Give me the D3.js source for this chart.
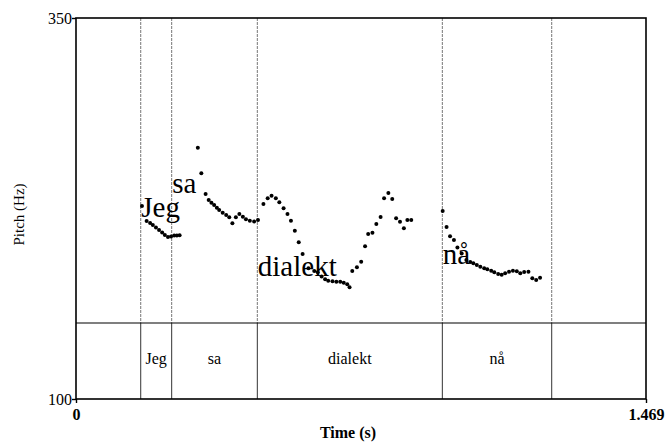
<!DOCTYPE html>
<html lang="en">
<head>
    <meta charset="UTF-8">
    <title>Pitch (Hz) with TextGrid</title>
    <script src="https://d3js.org/d3.v7.min.js"></script>
    <style>
        body {
            margin: 0;
            background: #fff;
        }

        svg {
            font-family: "Liberation Serif", "Times New Roman", serif;
        }

        .frame {
            fill: none;
            stroke: #000;
            stroke-width: 1.6px;
        }

        .pitch-dot {
            fill: #000;
        }
    </style>
</head>
<body>

<svg id="pitch-chart" width="666" height="443"></svg>

<script>
    // Pitch samples (time in s, pitch in Hz)
    const pitchTime = [
        0.170, 0.182, 0.191, 0.198, 0.206, 0.214, 0.222, 0.229, 0.237, 0.245, 0.253, 0.260, 0.267,
        0.314, 0.323, 0.334, 0.342, 0.349, 0.356, 0.363, 0.369, 0.378, 0.387, 0.395, 0.403, 0.412,
        0.421, 0.430, 0.438, 0.448, 0.459, 0.469,
        0.483, 0.494, 0.504, 0.515, 0.524, 0.535, 0.545, 0.554, 0.564, 0.574, 0.584, 0.599, 0.614,
        0.623, 0.633, 0.642, 0.650, 0.661, 0.671, 0.681, 0.690, 0.699, 0.705,
        0.712, 0.724, 0.735, 0.745, 0.753, 0.764, 0.774, 0.785, 0.794, 0.805, 0.815, 0.825, 0.835,
        0.845, 0.854, 0.864,
        0.945, 0.955, 0.964, 0.974, 0.983, 0.994, 1.006, 1.016, 1.024, 1.033, 1.042, 1.052, 1.060,
        1.070, 1.078, 1.088, 1.097, 1.106, 1.116, 1.126, 1.136, 1.145, 1.155, 1.166, 1.176, 1.186, 1.196
    ];
    const pitchHz = [
        226.6, 216.8, 215.5, 214.2, 212.5, 210.9, 209.3, 207.6, 206.3, 206.6, 207.3, 207.3, 207.4,
        264.9, 248.1, 234.5, 230.6, 228.8, 227.3, 225.5, 224.0, 222.2, 220.7, 219.2, 215.3, 219.2,
        221.4, 219.6, 217.9, 217.0, 216.5, 217.4,
        228.0, 231.7, 233.4, 231.7, 229.1, 225.1, 221.4, 217.0, 210.4, 202.8, 195.1, 185.8, 184.0,
        183.1, 180.3, 178.5, 177.6, 177.2, 177.0, 177.0, 176.3, 175.3, 173.3,
        184.0, 186.4, 190.1, 200.2, 208.3, 209.1, 214.8, 219.4, 231.7, 235.2, 231.2, 218.6, 216.3,
        212.0, 217.5, 217.5,
        223.4, 212.9, 206.8, 204.3, 199.4, 195.5, 191.2, 189.9, 189.0, 187.9, 186.8, 185.8, 185.1,
        184.2, 183.1, 182.0, 181.6, 182.5, 183.5, 184.2, 183.8, 182.5, 183.3, 183.5, 179.2, 178.1, 179.6
    ];

    // TextGrid words and interval boundaries (s)
    const words = ["Jeg", "sa", "dialekt", "nå"];
    const wordStart = [0.1668, 0.2466, 0.4673, 0.9441];
    const wordEnd = [0.2466, 0.4673, 0.9441, 1.2260];
    // pitch level (Hz) where each big word label sits in the plot
    const wordTextHz = [219.4, 235.2, 180.7, 188.6];

    // Axis ranges and tick labels
    const timeRange = [0, 1.469];
    const hzRange = [100, 350];
    const timeTicks = [0, 1.469];
    const hzTicks = [100, 350];

    const margin = { top: 18, right: 20, bottom: 44, left: 76 },
          width = 666 - margin.left - margin.right,
          height = 443 - margin.top - margin.bottom;
    const tierHeight = 76;

    const svg = d3.select("#pitch-chart")
                  .append("g")
                  .attr("transform", `translate(${margin.left},${margin.top})`);

    const x = d3.scaleLinear().domain(timeRange).range([0, width]);
    const y = d3.scaleLinear().domain(hzRange).range([height, 0]);

    const boundaries = Array.from(new Set(wordStart.concat(wordEnd)));

    // Boundary lines: dotted over the pitch, solid inside the tier
    svg.selectAll(".bound-top")
       .data(boundaries)
       .enter().append("line")
       .attr("x1", d => x(d)).attr("x2", d => x(d))
       .attr("y1", 0).attr("y2", height - tierHeight)
       .attr("stroke", "#777")
       .attr("stroke-width", 1)
       .attr("stroke-dasharray", "3,1");

    svg.selectAll(".bound-tier")
       .data(boundaries)
       .enter().append("line")
       .attr("x1", d => x(d)).attr("x2", d => x(d))
       .attr("y1", height - tierHeight).attr("y2", height)
       .attr("stroke", "#333")
       .attr("stroke-width", 1);

    // Tier top line
    svg.append("line")
       .attr("x1", 0).attr("x2", width)
       .attr("y1", height - tierHeight).attr("y2", height - tierHeight)
       .attr("stroke", "#000")
       .attr("stroke-width", 1.1);

    // Tier labels
    svg.selectAll(".tier-label")
       .data(words)
       .enter().append("text")
       .attr("x", (d, i) => (x(wordStart[i]) + x(wordEnd[i])) / 2)
       .attr("y", height - tierHeight / 2 + 3)
       .attr("text-anchor", "middle")
       .attr("font-size", 16)
       .text(d => d);

    // Big word labels in the pitch area
    svg.selectAll(".word-label")
       .data(words)
       .enter().append("text")
       .attr("x", (d, i) => x(wordStart[i]) + 0.5)
       .attr("y", (d, i) => y(wordTextHz[i]))
       .attr("font-size", 29)
       .text(d => d);

    // Pitch dots
    svg.selectAll(".pitch-dot")
       .data(pitchTime.map((t, i) => ({ t: t, hz: pitchHz[i] })))
       .enter().append("circle")
       .attr("class", "pitch-dot")
       .attr("cx", d => x(d.t))
       .attr("cy", d => y(d.hz))
       .attr("r", 2);

    // Frame
    svg.append("rect")
       .attr("class", "frame")
       .attr("x", 0).attr("y", 0)
       .attr("width", width).attr("height", height);

    // Axes (ticks only, frame draws the lines)
    const yAxis = svg.append("g")
       .call(d3.axisLeft(y).tickValues(hzTicks).tickSize(4).tickSizeOuter(0).tickFormat(d3.format("d")));
    yAxis.select(".domain").remove();
    yAxis.selectAll("line").attr("stroke-width", 1.4);
    yAxis.selectAll("text")
         .attr("font-family", "Liberation Serif, serif")
         .attr("font-size", 16)
         .attr("fill", "#000")
         .attr("x", -4)
         .attr("dy", "0.36em");

    const xAxis = svg.append("g")
       .attr("transform", `translate(0,${height})`)
       .call(d3.axisBottom(x).tickValues(timeTicks).tickSize(4).tickSizeOuter(0)
               .tickFormat(d => d === 0 ? "0" : d3.format(".3f")(d)));
    xAxis.select(".domain").remove();
    xAxis.selectAll("line").attr("stroke-width", 1.4);
    xAxis.selectAll("text")
         .attr("font-family", "Liberation Serif, serif")
         .attr("font-size", 16)
         .attr("font-weight", "bold")
         .attr("fill", "#000")
         .attr("y", 10)
         .attr("dy", "0.71em");

    // Axis titles
    svg.append("text")
       .attr("x", width / 2 - 13)
       .attr("y", height + 39)
       .attr("text-anchor", "middle")
       .attr("font-size", 16)
       .attr("font-weight", "bold")
       .text("Time (s)");

    svg.append("text")
       .attr("transform", `translate(${-margin.left + 24},${height / 2 + 6}) rotate(-90)`)
       .attr("text-anchor", "middle")
       .attr("font-size", 15)
       .text("Pitch (Hz)");
</script>

</body>
</html>
